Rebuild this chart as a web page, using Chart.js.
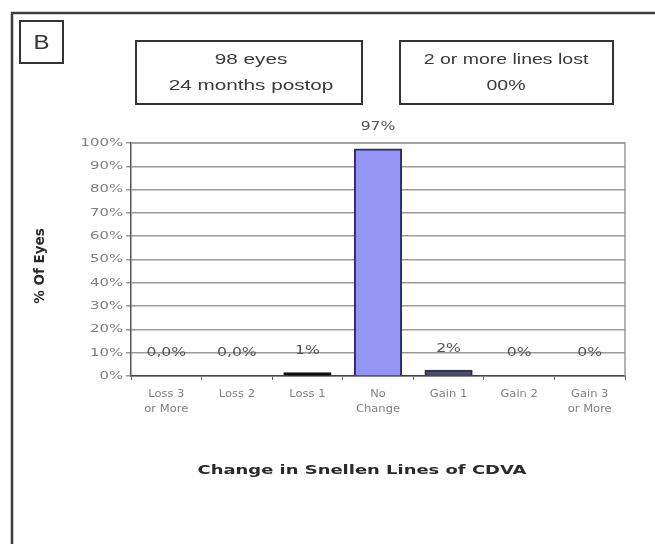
<!DOCTYPE html>
<html>
<head>
<meta charset="utf-8">
<script src="https://cdn.jsdelivr.net/npm/chart.js@4"></script>
<style>
  html, body { margin: 0; padding: 0; background: #fff; }
  #wrap { width: 655px; height: 544px; }
</style>
</head>
<body>
<div id="wrap"><canvas id="snellen" width="655" height="544"></canvas></div>
<script>
  // Data
  const categories = [['Loss 3', 'or More'], 'Loss 2', 'Loss 1', ['No', 'Change'], 'Gain 1', 'Gain 2', ['Gain 3', 'or More']];
  const eyesPct    = [0, 0, 1, 97, 2, 0, 0];
  const pctLabels  = ['0,0%', '0,0%', '1%', '97%', '2%', '0%', '0%'];
  const yTicks     = [0, 10, 20, 30, 40, 50, 60, 70, 80, 90, 100];
  const infoLeft   = ['98 eyes', '24 months postop'];
  const infoRight  = ['2 or more lines lost', '00%'];

  const barFill   = ['#000000', '#000000', '#0a0a0a', '#9494f4', '#4b4b6b', '#4b4b6b', '#4b4b6b'];
  const barStroke = ['#111111', '#111111', '#111111', '#2c2c6a', '#2e2e48', '#2e2e48', '#2e2e48'];

  Chart.defaults.font.family = "'DejaVu Sans', sans-serif";

  // text drawn a bit wider than the font's natural width
  function wideText(ctx, text, x, y, sx) {
    ctx.save();
    ctx.translate(x, y);
    ctx.scale(sx, 1);
    ctx.fillText(text, 0, 0);
    ctx.restore();
  }

  // value text above each bar
  const barLabels = {
    id: 'barLabels',
    afterDatasetsDraw(chart) {
      const { ctx } = chart;
      const meta = chart.getDatasetMeta(0);
      ctx.save();
      ctx.font = '12.5px "DejaVu Sans"';
      ctx.fillStyle = '#555';
      ctx.textAlign = 'center';
      ctx.textBaseline = 'middle';
      meta.data.forEach((bar, i) => {
        wideText(ctx, pctLabels[i], bar.x, bar.y - 23, 1.25);
      });
      ctx.restore();
    }
  };

  // tick labels for both axes
  const tickText = {
    id: 'tickText',
    afterDraw(chart) {
      const { ctx, scales: { x, y } } = chart;
      ctx.save();
      ctx.fillStyle = '#808080';
      ctx.textBaseline = 'middle';

      ctx.font = '11px "DejaVu Sans"';
      ctx.textAlign = 'right';
      yTicks.forEach(v => {
        wideText(ctx, v + '%', 123, y.getPixelForValue(v), 1.35);
      });

      ctx.font = '10px "DejaVu Sans"';
      ctx.textAlign = 'center';
      categories.forEach((lab, i) => {
        const lines = Array.isArray(lab) ? lab : [lab];
        lines.forEach((t, k) => {
          wideText(ctx, t, x.getPixelForValue(i), y.bottom + 18 + k * 15, 1.15);
        });
      });
      ctx.restore();
    }
  };

  // frame, panel letter, info boxes and axis titles
  const panelDecor = {
    id: 'panelDecor',
    afterDraw(chart) {
      const { ctx, chartArea: a } = chart;
      ctx.save();

      // plot border
      ctx.strokeStyle = '#9a9a9a';
      ctx.lineWidth = 1.5;
      ctx.beginPath();
      ctx.moveTo(a.left, a.top);
      ctx.lineTo(a.right, a.top);
      ctx.lineTo(a.right, a.bottom);
      ctx.stroke();

      // outer frame (open to the right and bottom)
      ctx.strokeStyle = '#3c3c3c';
      ctx.lineWidth = 2.5;
      ctx.beginPath();
      ctx.moveTo(12, 544);
      ctx.lineTo(12, 13);
      ctx.lineTo(655, 13);
      ctx.stroke();

      // panel letter
      ctx.lineWidth = 2;
      ctx.strokeStyle = '#333';
      ctx.strokeRect(20, 21, 43, 42);
      ctx.fillStyle = '#333';
      ctx.textAlign = 'center';
      ctx.textBaseline = 'middle';
      ctx.font = '20px "Liberation Sans"';
      wideText(ctx, 'B', 41.5, 43, 1.2);

      // info boxes
      ctx.strokeRect(136, 41, 226, 63);
      ctx.strokeRect(400, 41, 213, 63);
      ctx.font = '15px "Liberation Sans"';
      ctx.fillStyle = '#3a3a3a';
      wideText(ctx, infoLeft[0], 251, 60, 1.38);
      wideText(ctx, infoLeft[1], 251, 86, 1.38);
      wideText(ctx, infoRight[0], 506, 60, 1.3);
      wideText(ctx, infoRight[1], 506, 86, 1.3);

      // axis titles
      ctx.fillStyle = '#2a2a2a';
      ctx.font = 'bold 13px "DejaVu Sans"';
      wideText(ctx, 'Change in Snellen Lines of CDVA', 362, 471, 1.38);
      ctx.translate(40, 266);
      ctx.rotate(-Math.PI / 2);
      ctx.font = 'bold 13.5px "DejaVu Sans"';
      ctx.fillText('% Of Eyes', 0, 0);

      ctx.restore();
    }
  };

  const config = {
    type: 'bar',
    data: {
      labels: categories,
      datasets: [{
        data: eyesPct,
        backgroundColor: barFill,
        borderColor: barStroke,
        borderWidth: 2,
        inflateAmount: 1.5,
        barPercentage: 0.64,
        categoryPercentage: 1.0
      }]
    },
    options: {
      responsive: false,
      animation: false,
      layout: {
        padding: { left: 0, top: 143, right: 30, bottom: 108 }
      },
      scales: {
        x: {
          grid: { drawOnChartArea: false, drawTicks: true, tickLength: 4, color: '#666', offset: true },
          border: { color: '#444', width: 1.5 },
          ticks: { display: false },
          afterFit(scale) { scale.height = 60; }
        },
        y: {
          min: 0,
          max: 100,
          afterBuildTicks(scale) { scale.ticks = yTicks.map(v => ({ value: v })); },
          grid: { color: '#9a9a9a', lineWidth: 1.5, tickLength: 5, drawTicks: true },
          border: { color: '#555', width: 1.5 },
          ticks: { display: false },
          afterFit(scale) { scale.width = 131; }
        }
      },
      plugins: {
        legend: { display: false },
        tooltip: { enabled: false }
      }
    },
    plugins: [barLabels, tickText, panelDecor]
  };

  new Chart(document.getElementById('snellen'), config);
</script>
</body>
</html>
